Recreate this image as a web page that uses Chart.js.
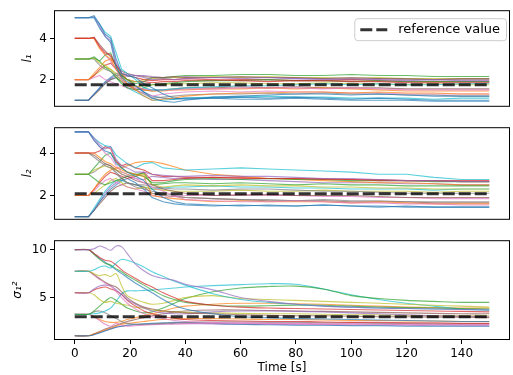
<!DOCTYPE html>
<html>
<head>
<meta charset="utf-8">
<script src="https://cdn.jsdelivr.net/npm/chart.js@4.4.1/dist/chart.umd.min.js"></script>
<style>
  html, body { margin: 0; padding: 0; background: #fff; }
  #wrap { position: relative; width: 513px; height: 375px; }
  .panel { position: absolute; left: 0; width: 513px; }
</style>
</head>
<body>
<div id="wrap">
  <div class="panel" style="top:0;height:117px"><canvas id="c1"></canvas></div>
  <div class="panel" style="top:117px;height:113px"><canvas id="c2"></canvas></div>
  <div class="panel" style="top:230px;height:145px"><canvas id="c3"></canvas></div>
</div>
<script>
// sample times shared by every run
const TIME = [0,5,7,9,11,13,15,17,19,22,25,28,32,36,40,50,60,70,80,90,100,110,120,130,140,150];
const X_TICKS = [0,20,40,60,80,100,120,140];
const REF_VALUES = [1.75, 2.08, 3.0];

// l1 runs
const L1_RUNS = [
  [5,5,5.1,4.7,4.2,4.0,3.0,2.3,2.2,2.1,1.8,1.6,1.3,1.1,1.05,1.1,1.15,1.1,1.15,1.1,1.05,1.1,1.05,1.0,1.0,1.0],
  [5,5,5.05,4.6,4.1,3.9,2.8,2.3,2.25,2.2,2.1,2.0,2.05,2.0,2.05,2.1,2.05,2.1,2.05,2.0,2.05,2.0,1.95,2.0,1.95,1.95],
  [5,5,5.0,4.7,4.3,4.1,3.3,2.5,2.3,2.0,1.6,1.5,1.5,1.55,1.6,1.65,1.7,1.7,1.75,1.8,1.75,1.8,1.75,1.75,1.8,1.8],
  [5,5,5.0,4.5,4.1,3.8,2.6,2.1,1.9,1.7,1.4,1.1,0.95,0.9,1.0,1.15,1.2,1.25,1.3,1.3,1.25,1.3,1.25,1.2,1.2,1.2],
  [4,4,4.05,3.6,3.3,3.2,2.7,2.3,2.2,2.1,2.0,1.95,2.0,2.0,2.05,2.0,1.95,1.9,1.95,1.95,1.9,1.9,1.85,1.85,1.85,1.85],
  [4,4,4.0,3.5,3.2,3.0,2.5,2.1,1.8,1.5,1.2,1.0,1.05,1.1,1.2,1.3,1.35,1.35,1.4,1.4,1.35,1.4,1.35,1.35,1.3,1.3],
  [4,4,4.05,3.7,3.4,3.1,2.7,2.4,2.3,2.2,2.15,2.1,2.1,2.15,2.1,2.1,2.15,2.1,2.1,2.05,2.1,2.05,2.05,2.0,2.05,2.05],
  [4,4,4.0,3.6,3.2,2.9,2.5,2.0,1.7,1.6,1.55,1.5,1.5,1.5,1.55,1.55,1.6,1.6,1.6,1.55,1.6,1.55,1.5,1.5,1.5,1.5],
  [3,3,3.1,2.9,3.2,3.3,2.6,2.2,2.0,1.8,1.9,2.1,2.1,2.15,2.2,2.2,2.25,2.25,2.2,2.2,2.25,2.2,2.2,2.15,2.15,2.15],
  [3,3,3.05,2.8,2.7,2.5,2.3,2.1,2.0,1.9,2.0,2.05,2.05,2.1,2.1,2.15,2.1,2.15,2.1,2.1,2.05,2.1,2.05,2.05,2.05,2.05],
  [3,3,3.0,2.7,2.5,2.4,2.2,2.0,1.8,1.5,1.3,1.1,1.15,1.2,1.25,1.3,1.3,1.35,1.3,1.35,1.3,1.3,1.25,1.25,1.2,1.2],
  [3,3,3.05,2.9,2.6,2.4,2.1,1.8,1.6,1.5,1.6,1.75,1.8,1.85,1.9,1.95,1.95,2.0,1.95,1.95,1.9,1.95,1.9,1.9,1.9,1.9],
  [2,2,2.3,2.6,2.9,3.0,2.7,2.3,2.0,1.7,1.5,1.45,1.45,1.5,1.5,1.55,1.55,1.6,1.55,1.6,1.55,1.5,1.45,1.45,1.45,1.45],
  [2,2,2.1,2.2,2.0,1.9,1.8,1.7,1.6,1.5,1.35,1.2,1.3,1.35,1.4,1.45,1.4,1.45,1.4,1.4,1.35,1.35,1.3,1.3,1.3,1.3],
  [2,2,2.2,2.5,2.7,2.8,2.5,2.2,2.0,1.9,1.9,1.85,1.9,1.9,1.95,1.95,2.0,2.0,1.95,1.95,2.0,1.95,1.9,1.9,1.9,1.9],
  [2,2,2.2,2.4,2.6,2.5,2.2,1.9,1.7,1.65,1.7,1.75,1.75,1.8,1.8,1.85,1.85,1.8,1.8,1.85,1.8,1.8,1.75,1.8,1.75,1.75],
  [1,1,1.3,1.6,1.9,2.1,2.3,2.2,2.0,1.7,1.4,1.2,1.1,1.05,1.1,1.1,1.05,1.05,1.1,1.05,1.0,1.0,1.0,0.95,0.95,0.95],
  [1,1,1.25,1.5,1.8,2.0,2.1,1.9,1.7,1.55,1.5,1.45,1.5,1.55,1.6,1.6,1.65,1.6,1.65,1.6,1.6,1.6,1.55,1.55,1.55,1.55],
  [1,1,1.3,1.6,1.85,2.05,2.2,2.2,2.15,2.2,2.2,2.15,2.1,2.1,2.15,2.1,2.1,2.1,2.05,2.05,2.0,2.05,2.0,2.0,2.0,2.0],
  [1,1,1.3,1.55,1.8,2.0,2.1,1.9,1.6,1.4,1.2,1.0,1.0,1.05,1.1,1.15,1.15,1.2,1.15,1.15,1.1,1.1,1.1,1.05,1.1,1.1]
];

// l2 runs
const L2_RUNS = [
  [5,5,4.6,4.3,4.1,4.0,3.5,3.3,3.1,2.9,2.7,2.3,1.9,1.7,1.6,1.55,1.5,1.55,1.5,1.55,1.5,1.5,1.45,1.45,1.45,1.45],
  [5,5,4.7,4.4,4.2,4.3,3.7,3.4,3.3,3.1,3.1,3.0,2.95,2.9,2.9,2.95,2.9,2.9,2.85,2.8,2.8,2.75,2.7,2.7,2.65,2.65],
  [5,5,4.7,4.5,4.35,4.3,3.9,3.7,3.5,3.3,3.5,3.55,3.3,3.25,3.2,3.25,3.3,3.25,3.2,3.15,3.1,3.0,3.0,2.85,2.75,2.75],
  [5,5,4.6,4.3,4.0,3.8,3.4,3.1,3.0,2.8,2.6,2.4,2.2,2.0,1.8,1.75,1.7,1.7,1.75,1.7,1.65,1.65,1.6,1.6,1.55,1.55],
  [4,4,4.0,4.1,4.3,4.2,3.6,3.4,3.5,3.3,3.2,3.0,2.9,2.9,2.85,2.85,2.8,2.8,2.8,2.75,2.75,2.7,2.7,2.7,2.7,2.7],
  [4,4,4.0,3.8,3.6,3.5,3.3,3.2,3.1,3.0,2.9,2.0,1.9,1.85,1.8,1.7,1.75,1.7,1.7,1.7,1.65,1.7,1.65,1.6,1.6,1.6],
  [4,4,3.9,3.7,3.5,3.4,3.2,3.0,2.9,2.7,2.6,2.5,2.3,2.2,2.1,2.0,2.0,2.05,2.0,2.0,2.0,1.95,1.9,1.9,1.9,1.9],
  [4,4,3.8,3.6,3.4,3.3,3.1,2.8,2.6,2.5,2.5,2.4,2.35,2.3,2.3,2.25,2.3,2.3,2.25,2.2,2.2,2.15,2.1,2.1,2.1,2.1],
  [3,3,3.3,3.6,3.9,4.0,3.6,3.3,3.1,3.0,2.9,2.6,2.6,2.7,2.75,2.8,2.75,2.8,2.75,2.75,2.7,2.7,2.7,2.65,2.65,2.65],
  [3,3,3.2,3.3,3.4,3.3,3.2,3.1,3.0,2.9,3.0,2.5,2.4,2.45,2.5,2.45,2.5,2.45,2.45,2.4,2.4,2.35,2.35,2.3,2.3,2.3],
  [3,3,3.1,3.3,3.5,3.4,3.0,2.8,2.6,2.4,2.3,2.2,2.1,2.0,1.9,1.85,1.8,1.8,1.75,1.8,1.75,1.75,1.7,1.7,1.7,1.7],
  [3,3,2.8,2.6,2.5,2.6,2.7,2.8,2.9,3.0,3.05,2.5,2.55,2.6,2.6,2.55,2.6,2.55,2.5,2.55,2.5,2.5,2.45,2.45,2.45,2.45],
  [2,2,2.3,2.7,3.0,3.2,3.3,3.3,3.4,3.55,3.6,3.6,3.5,3.35,3.2,3.0,2.9,2.8,2.75,2.7,2.65,2.6,2.6,2.55,2.5,2.5],
  [2,2,2.2,2.5,2.7,2.8,2.6,2.5,2.4,2.3,2.2,2.0,1.9,1.95,2.0,2.0,2.05,2.0,2.0,1.95,1.95,1.9,1.9,1.85,1.85,1.85],
  [2,2,2.3,2.6,2.9,3.1,3.0,2.9,2.8,2.9,3.1,2.7,2.7,2.75,2.8,2.85,2.85,2.8,2.8,2.8,2.75,2.75,2.7,2.7,2.65,2.65],
  [2,2,2.1,2.3,2.5,2.7,2.8,2.6,2.4,2.3,2.4,2.3,2.25,2.2,2.2,2.2,2.25,2.2,2.2,2.25,2.2,2.2,2.2,2.15,2.2,2.2],
  [1,1,1.3,1.7,2.0,2.3,2.5,2.7,2.8,2.6,2.3,1.9,1.7,1.6,1.55,1.5,1.55,1.5,1.5,1.55,1.5,1.45,1.5,1.45,1.45,1.45],
  [1,1,1.3,1.6,1.9,2.2,2.4,2.5,2.6,2.5,2.4,2.1,2.0,1.95,1.9,1.85,1.8,1.75,1.75,1.75,1.7,1.7,1.7,1.65,1.65,1.65],
  [1,1,1.3,1.7,2.1,2.4,2.6,2.8,2.9,2.8,2.75,2.9,2.85,2.8,2.8,2.75,2.75,2.7,2.65,2.6,2.6,2.6,2.55,2.55,2.5,2.5],
  [1,1,1.4,1.8,2.2,2.5,2.7,2.7,2.6,2.5,2.4,2.3,2.35,2.4,2.4,2.45,2.4,2.4,2.35,2.35,2.3,2.3,2.3,2.25,2.3,2.3]
];

// sigma_1^2 runs
const S1_RUNS = [
  [10,10,10.1,10.4,10.2,9.95,10.4,10.3,9.6,8.5,7.8,7.3,7.0,6.8,6.4,5.8,5.0,4.6,4.3,4.1,4.0,3.9,3.85,3.8,3.75,3.7],
  [7.75,7.75,7.9,8.2,8.3,8.1,8.6,9.0,8.9,8.6,8.2,7.7,7.2,6.7,6.3,5.4,4.8,4.5,4.3,4.1,4.0,3.9,3.85,3.8,3.75,3.7],
  [10,10,9.6,9.2,8.9,8.8,8.4,7.9,7.5,7.0,6.5,6.1,5.5,5.0,4.6,4.2,4.0,3.9,3.85,3.8,3.75,3.7,3.65,3.6,3.55,3.5],
  [10,10,9.5,9.0,8.6,8.4,8.0,7.7,7.3,6.8,6.3,5.8,5.2,4.8,4.5,4.2,4.1,4.15,4.2,4.2,4.1,4.0,3.95,3.9,3.85,3.8],
  [10,10,9.6,9.1,8.7,8.3,7.9,7.5,7.1,6.5,6.0,5.5,4.8,4.2,3.8,3.3,3.0,2.9,2.8,2.75,2.7,2.65,2.6,2.55,2.5,2.5],
  [7.75,7.75,7.5,7.3,7.4,7.2,7.5,6.2,5.2,4.8,4.5,4.3,4.4,4.7,5.0,5.2,4.9,4.8,4.7,4.6,4.5,4.4,4.3,4.2,4.1,4.0],
  [7.75,7.75,7.4,7.0,6.6,6.3,6.1,5.6,5.0,4.4,4.0,3.8,3.6,3.5,3.4,3.3,3.2,3.15,3.1,3.1,3.05,3.0,3.0,2.95,2.95,2.9],
  [7.75,7.75,7.3,6.9,6.5,6.2,5.6,5.0,4.4,3.8,3.3,3.0,2.8,2.6,2.5,2.4,2.35,2.3,2.3,2.25,2.25,2.2,2.2,2.2,2.15,2.15],
  [5.5,5.5,5.9,6.2,6.3,6.2,5.8,5.3,4.8,4.3,3.9,3.6,3.4,3.3,3.3,3.5,3.6,3.6,3.55,3.5,3.4,3.3,3.2,3.1,3.05,3.0],
  [5.5,5.5,5.8,6.0,6.1,5.9,5.7,5.3,4.7,4.1,3.6,3.3,3.0,2.85,2.7,2.6,2.55,2.5,2.5,2.45,2.4,2.4,2.35,2.35,2.3,2.3],
  [5.5,5.5,5.3,4.8,4.5,4.6,4.4,4.3,4.2,4.0,3.9,3.7,3.6,3.5,3.45,3.4,3.35,3.3,3.3,3.25,3.2,3.2,3.15,3.1,3.1,3.1],
  [3.25,3.25,3.6,4.1,4.6,5.0,4.7,4.3,3.9,3.6,3.4,3.5,3.9,4.4,4.9,5.6,6.0,6.15,6.2,5.9,5.2,4.9,4.7,4.6,4.5,4.5],
  [3.25,3.25,3.3,3.4,3.6,3.9,4.6,5.4,5.7,5.7,5.75,5.8,5.9,6.0,6.1,6.25,6.35,6.45,6.4,5.9,5.3,4.8,4.4,4.1,3.8,3.7],
  [3.25,3.25,3.5,3.6,3.4,3.1,2.8,2.5,2.3,2.2,2.2,2.25,2.3,2.35,2.4,2.45,2.45,2.4,2.4,2.35,2.35,2.3,2.3,2.25,2.25,2.25],
  [3.25,3.25,3.0,2.6,2.2,2.0,2.3,2.1,2.0,2.05,2.1,2.15,2.2,2.2,2.25,2.3,2.3,2.25,2.25,2.2,2.2,2.2,2.15,2.15,2.15,2.15],
  [3.25,3.25,3.0,2.7,2.5,2.4,2.4,2.5,2.7,2.9,3.1,3.3,3.6,3.9,4.1,4.3,4.4,4.4,4.35,4.3,4.2,4.1,4.0,3.95,3.9,3.9],
  [1,1,1.1,1.3,1.5,1.7,1.9,2.0,2.1,2.2,2.25,2.3,2.35,2.4,2.4,2.3,2.2,2.15,2.1,2.1,2.05,2.05,2.0,2.0,2.0,2.0],
  [1,1,1.2,1.4,1.6,1.8,2.0,2.2,2.3,2.4,2.5,2.6,2.7,2.75,2.8,2.8,2.75,2.7,2.7,2.65,2.6,2.6,2.55,2.55,2.5,2.5],
  [1,1,1.2,1.45,1.7,1.9,2.1,2.3,2.5,2.7,2.9,3.1,3.3,3.5,3.6,3.7,3.7,3.65,3.6,3.55,3.5,3.45,3.4,3.35,3.3,3.3],
  [1,1,1.15,1.35,1.55,1.75,1.9,2.0,2.1,2.15,2.2,2.2,2.25,2.3,2.3,2.25,2.2,2.2,2.15,2.15,2.1,2.1,2.1,2.05,2.05,2.05]
];

const BLUE = '#1f77b4', ORANGE = '#ff7f0e', GREEN = '#2ca02c', RED = '#d62728', PURPLE = '#9467bd';
const BROWN = '#8c564b', PINK = '#e377c2', GREY = '#7f7f7f', OLIVE = '#bcbd22', CYAN = '#17becf';

const L1_COLORS = [BLUE, PURPLE, CYAN, BLUE, RED, ORANGE, BROWN, PINK, GREEN, OLIVE, GREY, GREEN,
                   ORANGE, PINK, RED, OLIVE, BLUE, BROWN, PURPLE, CYAN];
const L2_COLORS = [BLUE, PURPLE, CYAN, PINK, RED, ORANGE, BROWN, GREY, GREEN, OLIVE, GREY, GREEN,
                   ORANGE, PINK, RED, OLIVE, BLUE, BROWN, PURPLE, CYAN];
const S1_COLORS = [PURPLE, CYAN, RED, GREEN, BLUE, OLIVE, BROWN, PINK, PURPLE, RED, OLIVE,
                   GREEN, CYAN, GREY, PINK, ORANGE, BLUE, ORANGE, BROWN, PURPLE];

const FONT = 'DejaVu Sans';

function runSets(runs, colors, tension) {
  return runs.map((ys, i) => ({
    data: ys.map((y, j) => ({ x: TIME[j], y: y })),
    borderColor: colors[i] + 'b3',
    borderWidth: 1.1,
    pointRadius: 0,
    tension: tension,
    order: 1,
  }));
}

function refSet(v) {
  return {
    label: 'reference value',
    data: [{ x: TIME[0], y: v }, { x: TIME[TIME.length - 1], y: v }],
    borderColor: 'rgba(0,0,0,0.8)',
    borderWidth: 3,
    borderDash: [12, 4],
    pointRadius: 0,
    order: 0,
  };
}

// full box round each axes, like matplotlib spines
const boxPlugin = {
  id: 'box',
  afterDraw(chart) {
    const { ctx, chartArea: a } = chart;
    ctx.save();
    ctx.strokeStyle = '#000';
    ctx.lineWidth = 1;
    ctx.strokeRect(a.left + 0.5, a.top + 0.5, a.right - a.left - 1, a.bottom - a.top - 1);
    ctx.restore();
  }
};

// legend box drawn inside the top panel, sized to its text
const refLegend = {
  id: 'refLegend',
  afterDraw(chart) {
    const ds = chart.data.datasets.find(d => d.label);
    if (!ds) return;
    const { ctx, chartArea: a } = chart;
    ctx.save();
    ctx.font = '13px "' + FONT + '"';
    const tw = ctx.measureText(ds.label).width;
    const w = tw + 50, h = 22;
    const x0 = a.right - 4 - w, y0 = a.top + 8;
    ctx.fillStyle = 'rgba(255,255,255,0.8)';
    ctx.strokeStyle = '#cccccc';
    ctx.lineWidth = 1;
    ctx.beginPath();
    ctx.roundRect(x0 + 0.5, y0 + 0.5, w, h, 3);
    ctx.fill();
    ctx.stroke();
    ctx.strokeStyle = ds.borderColor;
    ctx.lineWidth = ds.borderWidth;
    ctx.setLineDash(ds.borderDash);
    ctx.beginPath();
    ctx.moveTo(x0 + 6, y0 + 11.5);
    ctx.lineTo(x0 + 33, y0 + 11.5);
    ctx.stroke();
    ctx.setLineDash([]);
    ctx.fillStyle = '#000';
    ctx.textBaseline = 'middle';
    ctx.fillText(ds.label, x0 + 44, y0 + 11.5);
    ctx.restore();
  }
};

function makeChart(id, runs, colors, ref, yMin, yMax, yTicks, yTitle, titlePad, bottomPanel, pad, tension) {
  const tickFont = { family: FONT, size: 12 };
  const xScale = {
    type: 'linear',
    min: -7.5,
    max: 157.5,
    display: bottomPanel,
    grid: { display: true, drawOnChartArea: false, drawTicks: true, tickLength: 4, color: '#000' },
    border: { display: false },
    ticks: { color: '#000', font: tickFont, padding: 3, maxRotation: 0 },
    title: { display: true, text: 'Time [s]', color: '#000', font: tickFont, padding: { top: 0, bottom: 0 } },
    afterBuildTicks(scale) { scale.ticks = X_TICKS.map(v => ({ value: v })); },
    afterFit(scale) { scale.height = bottomPanel ? 35 : 0; },
  };
  return new Chart(document.getElementById(id), {
    type: 'line',
    data: { datasets: [refSet(ref)].concat(runSets(runs, colors, tension)) },
    options: {
      responsive: true,
      maintainAspectRatio: false,
      animation: false,
      layout: { padding: pad },
      plugins: { legend: { display: false }, tooltip: { enabled: false } },
      scales: {
        x: xScale,
        y: {
          type: 'linear',
          min: yMin,
          max: yMax,
          grid: { display: true, drawOnChartArea: false, drawTicks: true, tickLength: 4, color: '#000' },
          border: { display: false },
          ticks: { color: '#000', font: tickFont, padding: 3 },
          title: {
            display: true, text: yTitle, color: '#000',
            font: { family: FONT, size: 12, style: 'italic' },
            padding: { top: titlePad, bottom: 0 }
          },
          afterBuildTicks(scale) { scale.ticks = yTicks.map(v => ({ value: v })); },
          afterFit(scale) { scale.width = 54; },
        }
      }
    },
    plugins: [boxPlugin].concat(id === 'c1' ? [refLegend] : [])
  });
}

makeChart('c1', L1_RUNS, L1_COLORS, REF_VALUES[0], 0.68, 5.37, [2, 4], 'l\u2081', 21, false,
  { top: 9, bottom: 4, left: 0, right: 3 }, 0);
makeChart('c2', L2_RUNS, L2_COLORS, REF_VALUES[1], 0.85, 5.22, [2, 4], 'l\u2082', 21, false,
  { top: 5, bottom: 4, left: 0, right: 3 }, 0);
makeChart('c3', S1_RUNS, S1_COLORS, REF_VALUES[2], 0.56, 11.0, [5, 10], '\u03c3\u2081\u00b2', 11, true,
  { top: 5, bottom: 0, left: 0, right: 3 }, 0.3);
</script>
</body>
</html>
